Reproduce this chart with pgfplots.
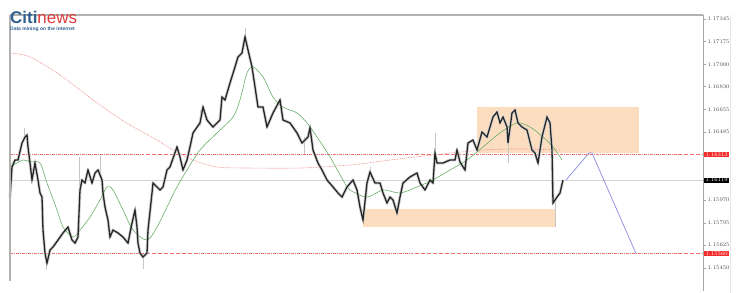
\documentclass[border=0pt]{standalone}
\usepackage{pgfplots}
\pgfplotsset{compat=1.18}
\usepackage{fontspec}
\newfontfamily\logofont{Liberation Sans}
\definecolor{citiblue}{HTML}{2F5F8F}
\definecolor{citired}{HTML}{DC3B3B}
\definecolor{boxfill}{HTML}{FDDDBF}
\definecolor{projblue}{HTML}{8A8AE0}
\definecolor{magreen}{HTML}{6AAE6A}
\definecolor{mared}{HTML}{EE8A8A}
\definecolor{levred}{HTML}{F07070}
\definecolor{lblred}{HTML}{F52A2A}

\begin{document}
\begin{tikzpicture}
\useasboundingbox (0,0) rectangle (743bp,293bp);
\begin{axis}[
  at={(10bp,11bp)}, anchor=south west,
  scale only axis, width=693bp, height=267bp,
  xmin=10, xmax=703, ymin=1.15344, ymax=1.17375,
  axis line style={draw=none},
  xtick=\empty,
  ytick={1.17345,1.17175,1.17000,1.16830,1.16655,1.16485,1.15970,1.15795,1.15625,1.15450},
  yticklabels={1.17345,1.17175,1.17000,1.16830,1.16655,1.16485,1.15970,1.15795,1.15625,1.15450},
  ytick pos=right, yticklabel pos=right,
  tick align=outside, major tick length=2.5bp,
  tick style={gray!70, line width=0.4pt},
  yticklabel style={font=\fontsize{5.5}{6}\selectfont, text=black!70, xshift=-1.5bp},
  scaled y ticks=false, clip=false,
]
% zones
\addplot[fill=boxfill, draw=none] coordinates {(477,1.16325) (639,1.16325) (639,1.16675) (477,1.16675)} -- cycle;
\addplot[fill=boxfill, draw=none] coordinates {(363,1.15762) (556,1.15762) (556,1.15899) (363,1.15899)} -- cycle;
% levels
\addplot[levred, dash pattern=on 3pt off 1.2pt on 0.6pt off 1.2pt, line width=0.6pt] coordinates {(10,1.16313) (703,1.16313)};
\addplot[levred, dash pattern=on 3pt off 1.2pt on 0.6pt off 1.2pt, line width=0.6pt] coordinates {(10,1.15560) (703,1.15560)};
\addplot[gray!35, line width=0.6pt] coordinates {(10,1.16119) (703,1.16119)};
% MA 200
\addplot[mared, dash pattern=on 0.8pt off 0.8pt, line width=0.6pt, smooth] table {
x y
10 1.17086
30 1.17056
60 1.16919
93 1.16729
125 1.16561
157 1.16424
173 1.16348
193 1.16272
217 1.16219
250 1.16211
300 1.16211
350 1.16234
390 1.16272
433 1.16310
483 1.16348
520 1.16356
560 1.16348
};
% wicks
\addplot[forget plot, draw=none, mark=none, error bars/.cd, y dir=both, y explicit,
  error bar style={draw=gray!45, line width=0.9pt}, error mark=none]
  table[x=x, y=y, y error plus=ep, y error minus=em] {
x y ep em
24 1.16447 0.00070 0.00030
46 1.15520 0.00040 0.00085
79 1.16044 0.00250 0.00020
100 1.16160 0.00140 0.00030
143 1.15534 0.00020 0.00090
200 1.16554 0.00100 0.00020
245 1.17208 0.00070 0.00030
304 1.16420 0.00030 0.00100
370 1.16181 0.00040 0.00030
435 1.16325 0.00150 0.00030
508 1.16401 0.00020 0.00150
555 1.15970 0.00020 0.00210
};
% price envelope (wicks)
\addplot[gray!35, line width=3pt, line join=round] table {
x y
10 1.15990
12 1.16219
15 1.16272
18 1.16272
22 1.16401
25 1.16447
27 1.16462
28 1.16371
30 1.16249
32 1.16120
35 1.16249
38 1.16120
40 1.16021
42 1.15990
43 1.15739
45 1.15564
47 1.15488
50 1.15587
53 1.15610
58 1.15663
63 1.15717
68 1.15762
72 1.15663
75 1.15640
78 1.15686
80 1.16044
82 1.16120
85 1.16097
88 1.16196
92 1.16097
95 1.16173
98 1.16196
102 1.16120
103 1.16021
105 1.15914
108 1.15815
110 1.15686
113 1.15739
118 1.15717
123 1.15686
128 1.15640
132 1.15793
135 1.15892
137 1.15762
138 1.15640
140 1.15564
143 1.15534
147 1.15564
148 1.15739
152 1.16021
153 1.16097
157 1.16067
160 1.16044
163 1.16067
167 1.16196
170 1.16219
177 1.16371
180 1.16295
183 1.16196
187 1.16272
190 1.16371
193 1.16478
200 1.16554
203 1.16675
207 1.16576
213 1.16523
220 1.16576
222 1.16751
225 1.16729
230 1.16858
235 1.16980
238 1.17056
242 1.17086
245 1.17208
248 1.17109
252 1.16980
255 1.16828
258 1.16675
263 1.16675
267 1.16523
273 1.16630
280 1.16729
283 1.16576
290 1.16554
297 1.16478
302 1.16401
308 1.16447
310 1.16516
313 1.16348
318 1.16249
322 1.16196
327 1.16120
333 1.16067
338 1.16021
342 1.15990
347 1.16067
353 1.16120
357 1.16044
360 1.15914
363 1.15815
367 1.16097
370 1.16181
375 1.16097
380 1.16097
383 1.16021
387 1.15945
390 1.15990
393 1.15968
397 1.15869
400 1.15990
403 1.16097
410 1.16143
417 1.16173
420 1.16097
425 1.16044
430 1.16120
433 1.16097
435 1.16325
437 1.16249
443 1.16249
450 1.16272
455 1.16272
457 1.16348
460 1.16257
465 1.16196
468 1.16401
473 1.16424
477 1.16348
482 1.16485
487 1.16447
490 1.16523
493 1.16599
497 1.16637
500 1.16554
503 1.16599
507 1.16523
508 1.16401
512 1.16630
515 1.16653
518 1.16554
522 1.16523
527 1.16500
532 1.16348
535 1.16325
538 1.16249
542 1.16447
547 1.16599
550 1.16554
552 1.16348
553 1.15945
557 1.15990
560 1.16021
563 1.16120
};
% MA short
\addplot[magreen, line width=0.6pt, smooth] table {
x y
10 1.16219
23 1.16272
30 1.16257
40 1.16249
47 1.16097
57 1.15892
63 1.15762
73 1.15686
80 1.15739
90 1.15838
100 1.15968
107 1.16067
113 1.16044
123 1.15892
133 1.15739
147 1.15663
157 1.15762
167 1.15914
177 1.16067
187 1.16196
200 1.16348
217 1.16478
233 1.16599
240 1.16729
247 1.16934
253 1.16980
263 1.16904
273 1.16751
283 1.16675
297 1.16630
307 1.16554
317 1.16447
330 1.16295
343 1.16120
350 1.16044
367 1.15990
383 1.16044
400 1.16021
417 1.16067
433 1.16120
450 1.16196
467 1.16272
483 1.16371
500 1.16478
517 1.16554
530 1.16523
543 1.16447
553 1.16371
562 1.16272
};
% price close
\addplot[black!85, line width=1.3pt, line join=miter] table {
x y
10 1.15990
12 1.16219
15 1.16272
18 1.16272
22 1.16401
25 1.16447
27 1.16462
28 1.16371
30 1.16249
32 1.16120
35 1.16249
38 1.16120
40 1.16021
42 1.15990
43 1.15739
45 1.15564
47 1.15488
50 1.15587
53 1.15610
58 1.15663
63 1.15717
68 1.15762
72 1.15663
75 1.15640
78 1.15686
80 1.16044
82 1.16120
85 1.16097
88 1.16196
92 1.16097
95 1.16173
98 1.16196
102 1.16120
103 1.16021
105 1.15914
108 1.15815
110 1.15686
113 1.15739
118 1.15717
123 1.15686
128 1.15640
132 1.15793
135 1.15892
137 1.15762
138 1.15640
140 1.15564
143 1.15534
147 1.15564
148 1.15739
152 1.16021
153 1.16097
157 1.16067
160 1.16044
163 1.16067
167 1.16196
170 1.16219
177 1.16371
180 1.16295
183 1.16196
187 1.16272
190 1.16371
193 1.16478
200 1.16554
203 1.16675
207 1.16576
213 1.16523
220 1.16576
222 1.16751
225 1.16729
230 1.16858
235 1.16980
238 1.17056
242 1.17086
245 1.17208
248 1.17109
252 1.16980
255 1.16828
258 1.16675
263 1.16675
267 1.16523
273 1.16630
280 1.16729
283 1.16576
290 1.16554
297 1.16478
302 1.16401
308 1.16447
310 1.16516
313 1.16348
318 1.16249
322 1.16196
327 1.16120
333 1.16067
338 1.16021
342 1.15990
347 1.16067
353 1.16120
357 1.16044
360 1.15914
363 1.15815
367 1.16097
370 1.16181
375 1.16097
380 1.16097
383 1.16021
387 1.15945
390 1.15990
393 1.15968
397 1.15869
400 1.15990
403 1.16097
410 1.16143
417 1.16173
420 1.16097
425 1.16044
430 1.16120
433 1.16097
435 1.16325
437 1.16249
443 1.16249
450 1.16272
455 1.16272
457 1.16348
460 1.16257
465 1.16196
468 1.16401
473 1.16424
477 1.16348
482 1.16485
487 1.16447
490 1.16523
493 1.16599
497 1.16637
500 1.16554
503 1.16599
507 1.16523
508 1.16401
512 1.16630
515 1.16653
518 1.16554
522 1.16523
527 1.16500
532 1.16348
535 1.16325
538 1.16249
542 1.16447
547 1.16599
550 1.16554
552 1.16348
553 1.15945
557 1.15990
560 1.16021
563 1.16120
};
% projection
\addplot[projblue, line width=0.7pt] coordinates {(566,1.16120) (589,1.16325) (592,1.16325) (636,1.15560)};
% price labels on scale
\node[fill=lblred, text=white, font=\fontsize{5.5}{6}\selectfont, inner xsep=1.5bp, inner ysep=0.6bp, anchor=west] at (axis cs:704,1.16313) {1.16313};
\node[fill=black, text=white, font=\fontsize{5.5}{6}\selectfont, inner xsep=1.5bp, inner ysep=0.6bp, anchor=west] at (axis cs:704,1.16119) {1.16119};
\node[fill=lblred, text=white, font=\fontsize{5.5}{6}\selectfont, inner xsep=1.5bp, inner ysep=0.6bp, anchor=west] at (axis cs:704,1.15560) {1.15560};
\end{axis}
% frame
\draw[gray!60, line width=1.2pt] (10bp,278bp) -- (703bp,278bp);
\draw[gray!60, line width=1.2pt] (10bp,278bp) -- (10bp,12bp);
\draw[gray!70, line width=0.8pt] (703bp,278bp) -- (703bp,2bp);
\draw[gray!20, line width=0.6pt] (730bp,278bp) -- (730bp,0bp);
% logo
\node[anchor=base west, inner sep=0, font=\logofont\fontsize{17}{17}\selectfont] at (10bp,269bp) {\textcolor{citiblue}{\textbf{Citi}}\textcolor{citired}{news}};
\node[anchor=base west, inner sep=0, font=\logofont\bfseries\fontsize{5}{6}\selectfont, text=citiblue] at (10bp,262bp) {Data mining on the internet};
\end{tikzpicture}
\end{document}
